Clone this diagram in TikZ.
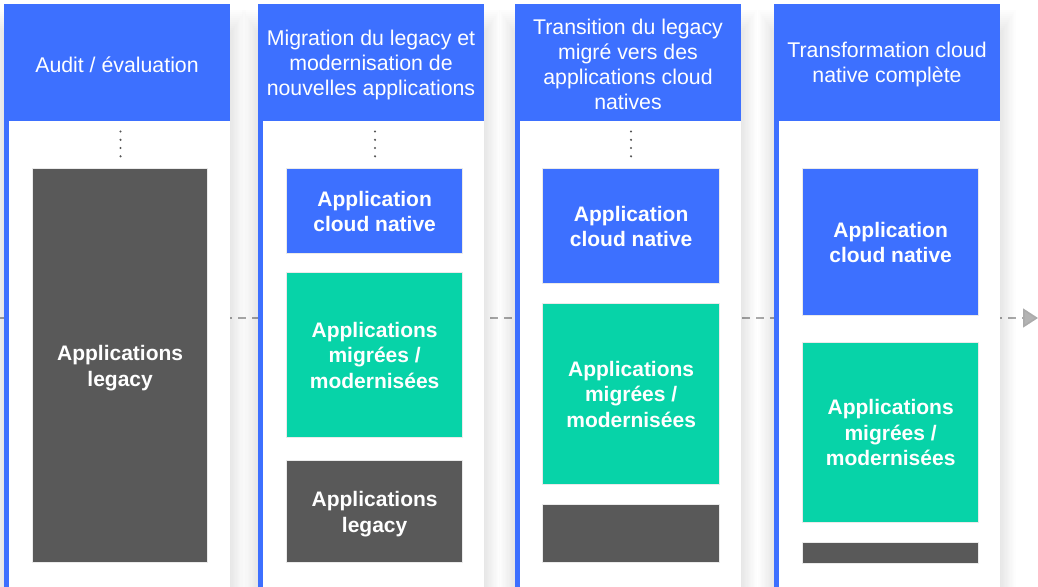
\documentclass[tikz,border=0pt]{standalone}
\usepackage{fontspec}
\setmainfont{Liberation Sans}
\usetikzlibrary{arrows.meta}
\definecolor{hblue}{HTML}{3D70FF}
\definecolor{hgreen}{HTML}{07D3A8}
\definecolor{hdark}{HTML}{595959}
\definecolor{edgegray}{HTML}{EAEAEA}
\definecolor{dashgray}{HTML}{ABABAB}
\definecolor{dotgray}{HTML}{555555}
\newcommand{\headfont}{\fontsize{21.3}{25}\selectfont}
\newcommand{\boxfont}{\fontsize{21}{25.5}\selectfont\bfseries}
\begin{document}
\begin{tikzpicture}[x=1pt,y=-1pt,
  headtext/.style={text=white, font=\headfont, align=center, inner sep=0pt},
  appbox/.style={draw=edgegray, line width=1.3pt, text=white, font=\boxfont, align=center, inner sep=0pt, anchor=north west, text depth=-3pt},
  dashline/.style={draw=dashgray, line width=1.6pt, dash pattern=on 8pt off 6pt, -{Triangle[length=15pt,width=19pt,fill=dashgray!90]}},
  colshadow/.style={fill=black, opacity=0.006},
  dotmark/.style={fill=dotgray}
]
\useasboundingbox (0,0) rectangle (1038,586);
\fill[white] (0,0) rectangle (1038,586);

% flow line
\coordinate (flowstart) at (0,318);
\coordinate (flowend) at (1038,318);
\draw[dashline] (flowstart) -- (flowend);

% column shadows
\foreach \a/\b in {4/230,258/484,515/741,774/1000}{
  \foreach \i in {1,...,12}{
    \fill[colshadow] (\a-\i*1.3,34-\i*2) rectangle (\b+\i*1.3,600);
  }
}

% columns
\foreach \a/\b in {4/230,258/484,515/741,774/1000}{
  \fill[hblue] (\a,4) rectangle (\b,121);
  \fill[white] (\a,121) rectangle (\b,600);
  \fill[hblue] (\a,121) rectangle (\a+5,600);
}

% headers
\node[headtext] (h1) at (117,64.5) {Audit / évaluation};
\node[headtext] (h2) at (371,64.5) {Migration du legacy et\\modernisation de\\nouvelles applications};
\node[headtext] (h3) at (628,64.5) {Transition du legacy\\migré vers des\\applications cloud\\natives};
\node[headtext] (h4) at (887,64.5) {Transformation cloud\\native complète};

% dots
\foreach \x in {120.5,375,631}{
  \foreach \y in {131.5,139.8,148,156.3}{
    \fill[dotmark] (\x,\y) circle (1.2);
  }
}

% column 1
\node[appbox, fill=hdark, minimum width=175pt, minimum height=394pt] (c1l) at (32,168) {Applications\\legacy};

% column 2
\node[appbox, fill=hblue, minimum width=176pt, minimum height=85pt] (c2c) at (286,168) {Application\\cloud native};
\node[appbox, fill=hgreen, minimum width=176pt, minimum height=165pt] (c2m) at (286,272) {Applications\\migrées /\\modernisées};
\node[appbox, fill=hdark, minimum width=176pt, minimum height=102pt] (c2l) at (286,460) {Applications\\legacy};

% column 3
\node[appbox, fill=hblue, minimum width=177pt, minimum height=115pt] (c3c) at (542,168) {Application\\cloud native};
\node[appbox, fill=hgreen, minimum width=177pt, minimum height=181pt] (c3m) at (542,303) {Applications\\migrées /\\modernisées};
\node[appbox, fill=hdark, minimum width=177pt, minimum height=58pt] (c3l) at (542,504) {};

% column 4
\node[appbox, fill=hblue, minimum width=176pt, minimum height=147pt] (c4c) at (802,168) {Application\\cloud native};
\node[appbox, fill=hgreen, minimum width=176pt, minimum height=180pt] (c4m) at (802,342) {Applications\\migrées /\\modernisées};
\node[appbox, fill=hdark, minimum width=176pt, minimum height=21pt] (c4l) at (802,542) {};
\end{tikzpicture}
\end{document}
